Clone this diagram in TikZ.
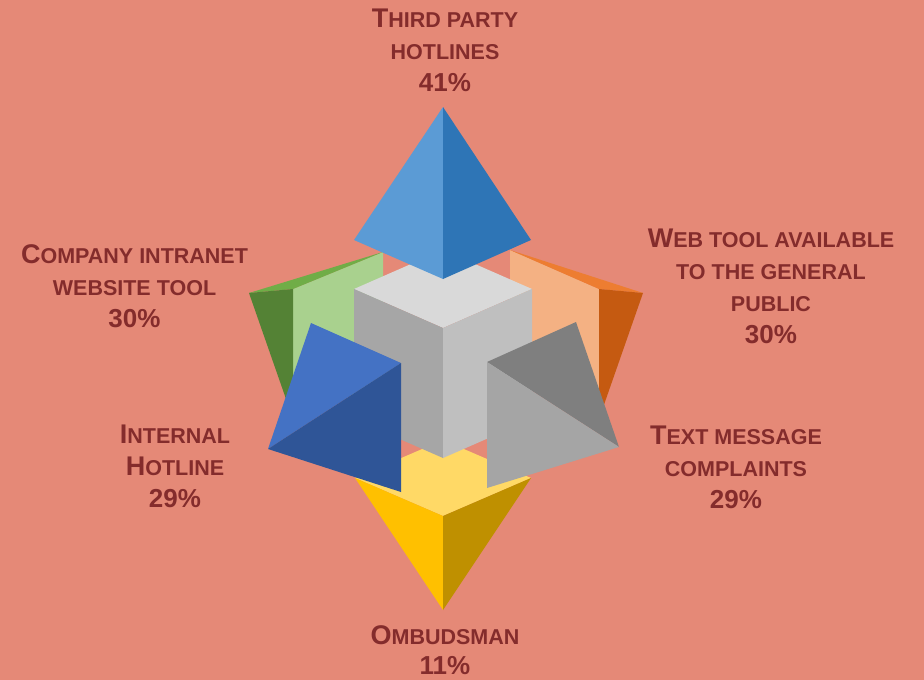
\documentclass[tikz,border=0pt]{standalone}
\usepackage{fontspec}
\setmainfont{Liberation Sans}
\definecolor{bgc}{HTML}{E58977}
\definecolor{txt}{RGB}{132,44,44}
\definecolor{ylTop}{HTML}{FFD966}
\definecolor{ylLeft}{HTML}{FFC000}
\definecolor{ylRight}{HTML}{BF9000}
\definecolor{grBase}{HTML}{A9D18E}
\definecolor{grTop}{HTML}{70AD47}
\definecolor{grSide}{HTML}{548235}
\definecolor{orBase}{HTML}{F4B183}
\definecolor{orTop}{HTML}{ED7D31}
\definecolor{orSide}{HTML}{C55A11}
\definecolor{cuTop}{HTML}{D9D9D9}
\definecolor{cuLeft}{HTML}{A6A6A6}
\definecolor{cuRight}{HTML}{BFBFBF}
\definecolor{tpLeft}{HTML}{5B9BD5}
\definecolor{tpRight}{HTML}{2E75B6}
\definecolor{blTop}{HTML}{4472C4}
\definecolor{blSide}{HTML}{2F5597}
\definecolor{gyTop}{HTML}{7F7F7F}
\definecolor{gySide}{HTML}{A5A5A5}
\newcommand\Bg[1]{{\fontsize{27}{32}\selectfont #1}}
\newcommand\Pc[1]{{\fontsize{26}{32}\selectfont #1}}
\tikzset{
  lbl/.style={text=txt, font=\bfseries\fontsize{21.5}{32}\selectfont, align=center, anchor=north, inner sep=0pt}
}
\begin{document}
\begin{tikzpicture}[x=1pt,y=-1pt]
\fill[bgc] (0,0) rectangle (924,680);
\useasboundingbox (0,0) rectangle (924,680);

% yellow (bottom) pyramid
\fill[ylTop] (355,478) -- (443,440) -- (531,478) -- (443,516) -- cycle;
\fill[ylLeft] (355,478) -- (443,516) -- (443,610) -- cycle;
\fill[ylRight] (443,516) -- (531,478) -- (443,610) -- cycle;

% green pyramid
\fill[grBase] (293,289) -- (383,252) -- (383,382) -- (293,419) -- cycle;
\fill[grTop] (249,293) -- (383,252) -- (293,289) -- cycle;
\fill[grSide] (249,293) -- (293,289) -- (293,419) -- cycle;

% orange pyramid
\fill[orBase] (510,250) -- (599,289) -- (599,419) -- (510,380) -- cycle;
\fill[orTop] (510,250) -- (643,293) -- (599,289) -- cycle;
\fill[orSide] (599,289) -- (643,293) -- (599,419) -- cycle;

% cube
\fill[cuTop] (354,289) -- (443,250) -- (532,289) -- (443,328) -- cycle;
\fill[cuLeft] (354,289) -- (443,328) -- (443,458) -- (354,419) -- cycle;
\fill[cuRight] (443,328) -- (532,289) -- (532,419) -- (443,458) -- cycle;

% top pyramid
\fill[tpLeft] (443,107) -- (354,240) -- (443,279) -- cycle;
\fill[tpRight] (443,107) -- (443,279) -- (531,240) -- cycle;

% blue pyramid
\fill[blTop] (311,323) -- (401,363) -- (268,449) -- cycle;
\fill[blSide] (401,363) -- (401,492) -- (268,449) -- cycle;

% gray pyramid
\fill[gyTop] (487,362) -- (576,322) -- (619,447) -- cycle;
\fill[gySide] (487,362) -- (619,447) -- (487,488) -- cycle;

% labels
\node[lbl] (third) at (445,8.5) {\Bg{T}HIRD PARTY\\HOTLINES\\\Pc{41\%}};
\node[lbl] (company) at (134.5,244.5) {\Bg{C}OMPANY INTRANET\\WEBSITE TOOL\\\Pc{30\%}};
\node[lbl] (web) at (771,228.5) {\Bg{W}EB TOOL AVAILABLE\\TO THE GENERAL\\PUBLIC\\\Pc{30\%}};
\node[lbl] (internal) at (175,424.5) {\Bg{I}NTERNAL\\\Bg{H}OTLINE\\\Pc{29\%}};
\node[lbl] (text) at (736,425.5) {\Bg{T}EXT MESSAGE\\COMPLAINTS\\\Pc{29\%}};
\node[lbl] (ombud) at (445,625) {\Bg{O}MBUDSMAN\\[-1.5pt]\Pc{11\%}};
\end{tikzpicture}
\end{document}
